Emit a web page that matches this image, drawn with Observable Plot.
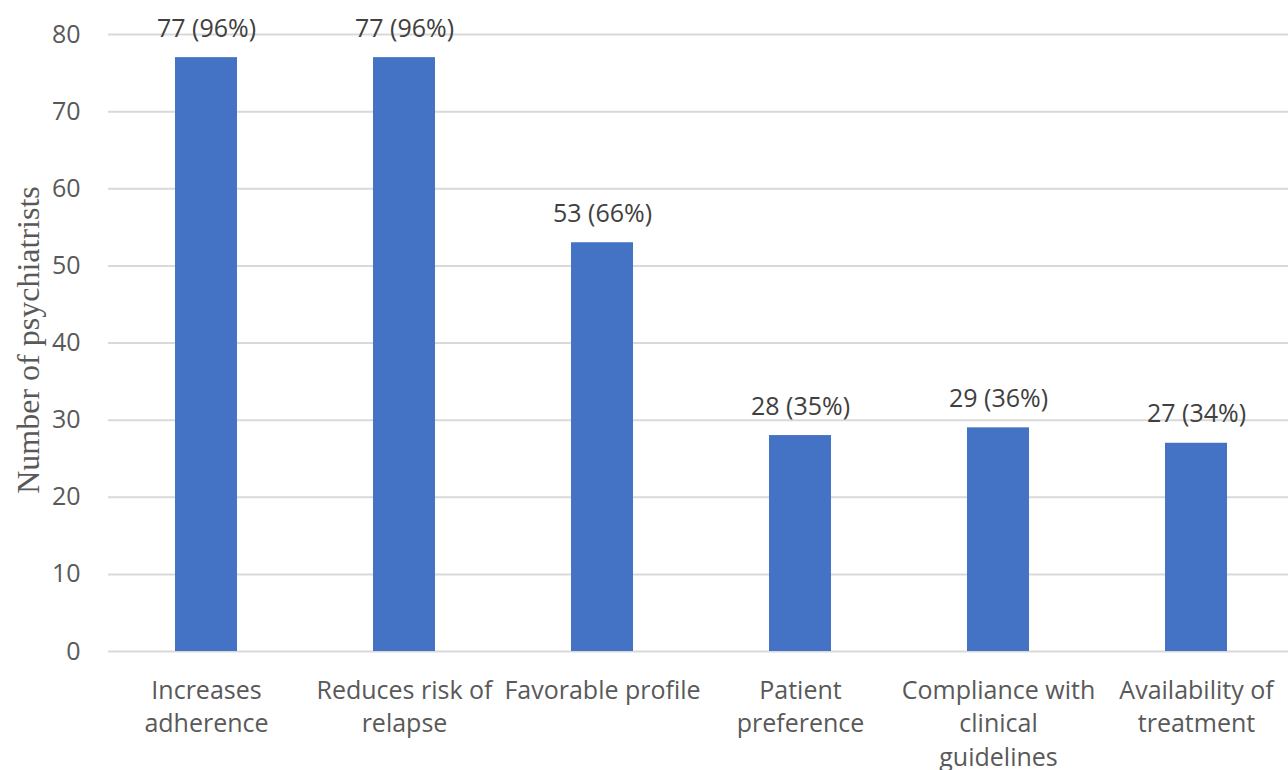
<!DOCTYPE html>
<html>
<head>
<meta charset="utf-8">
<script src="https://cdn.jsdelivr.net/npm/d3@7"></script>
<script src="https://cdn.jsdelivr.net/npm/@observablehq/plot@0.6"></script>
<style>
  html, body { margin: 0; padding: 0; background: #fff; }
  #chart svg { display: block; }
</style>
</head>
<body>
<div id="chart"></div>
<script>
// Reasons psychiatrists give for choosing the treatment
const reasons = [
  "Increases adherence",
  "Reduces risk of relapse",
  "Favorable profile",
  "Patient preference",
  "Compliance with clinical guidelines",
  "Availability of treatment"
];
// Wrapped tick labels for the category axis
const reasonLabels = [
  "Increases\nadherence",
  "Reduces risk of\nrelapse",
  "Favorable profile",
  "Patient\npreference",
  "Compliance with\nclinical\nguidelines",
  "Availability of\ntreatment"
];
const counts = [77, 77, 53, 28, 29, 27];
const percents = [96, 96, 66, 35, 36, 34];
const yTicks = [0, 10, 20, 30, 40, 50, 60, 70, 80];

const data = reasons.map((r, i) => ({
  reason: r,
  count: counts[i],
  label: `${counts[i]} (${percents[i]}%)`
}));
const labelOf = new Map(reasons.map((r, i) => [r, reasonLabels[i]]));

const font = "'Open Sans', 'Noto Sans', sans-serif";

const chart = Plot.plot({
  width: 1288,
  height: 770,
  marginLeft: 108,
  marginRight: 0,
  marginTop: 34,
  marginBottom: 119,
  style: { fontFamily: font, background: "#fff" },
  // the last category band runs a little past the right edge of the frame
  x: { domain: reasons, range: [107, 1296], paddingInner: 0.685, paddingOuter: 0.3425, label: null },
  y: { domain: [0, 80], label: null },
  marks: [
    Plot.gridY(yTicks, { stroke: "#d9d9d9", strokeOpacity: 1, strokeWidth: 2 }),
    Plot.barY(data, { x: "reason", y: "count", fill: "#4472C4" }),
    Plot.text(data, {
      x: "reason", y: "count", text: "label",
      dy: -29, lineAnchor: "middle",
      fontSize: 25, fill: "#404040", fontFamily: font
    }),
    Plot.axisY({
      ticks: yTicks, tickSize: 0, tickPadding: 28,
      fontSize: 25, color: "#595959", label: null
    }),
    Plot.axisX({
      tickSize: 0, tickPadding: 24, fontSize: 25, color: "#595959",
      lineHeight: 1.33, lineAnchor: "top",
      tickFormat: d => labelOf.get(d), label: null
    }),
    Plot.text(["Number of psychiatrists"], {
      frameAnchor: "left", textAnchor: "middle", dx: -80, dy: -3, rotate: -90,
      fontSize: 32, fill: "#595959",
      fontFamily: "'Liberation Serif', 'DejaVu Serif', serif"
    })
  ]
});

document.getElementById("chart").appendChild(chart);
</script>
</body>
</html>
